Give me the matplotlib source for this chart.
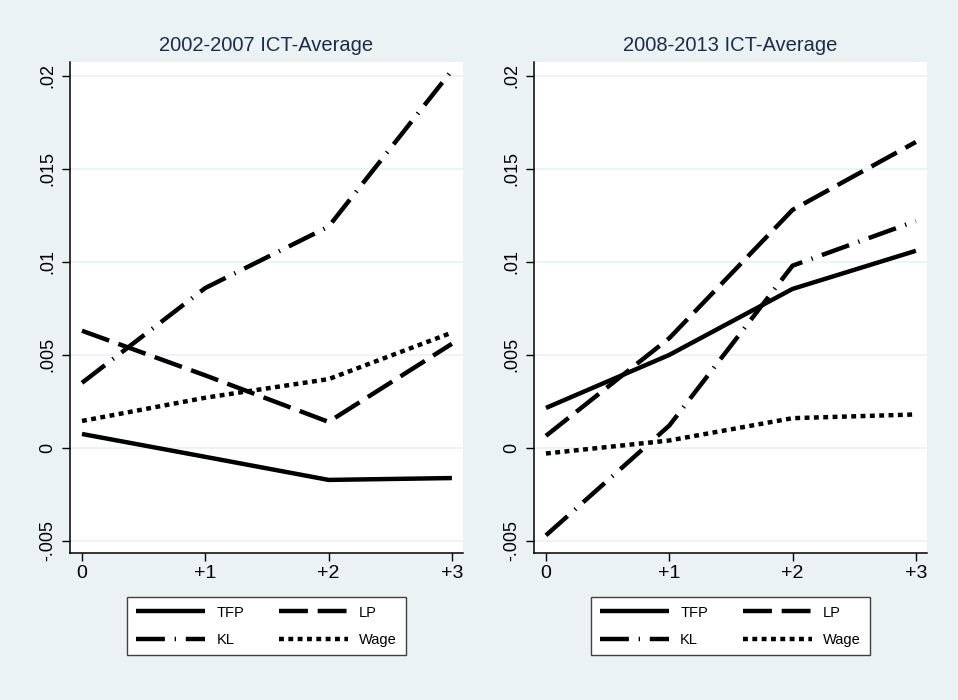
import numpy as np
import matplotlib
matplotlib.use("Agg")
import matplotlib.pyplot as plt

plt.rcParams['font.family'] = ['Liberation Sans', 'DejaVu Sans']

# horizon after the event
horizon = [0, 1, 2, 3]
horizon_labels = ['0', '+1', '+2', '+3']

titles = ['2002-2007 ICT-Average', '2008-2013 ICT-Average']

# 2002-2007 estimates
tfp_0207 = [0.00075, -0.00048, -0.00172, -0.00162]
lp_0207 = [0.0063, 0.0039, 0.0014, 0.0056]
kl_0207 = [0.0035, 0.0086, 0.0119, 0.0203]
wage_0207 = [0.00145, 0.0027, 0.0037, 0.0062]

# 2008-2013 estimates
tfp_0813 = [0.00215, 0.0050, 0.00855, 0.0106]
lp_0813 = [0.00065, 0.0059, 0.0128, 0.01645]
kl_0813 = [-0.0047, 0.0012, 0.0098, 0.0122]
wage_0813 = [-0.0003, 0.0004, 0.0016, 0.0018]

yticks = [-0.005, 0, 0.005, 0.01, 0.015, 0.02]
ytick_labels = ['-.005', '0', '.005', '.01', '.015', '.02']

bg = '#EAF2F3'
title_col = '#1E2C4C'

styles = {
    'TFP': dict(linestyle='-'),
    'LP': dict(linestyle=(0, (6.5, 2.2))),
    'KL': dict(linestyle=(0, (6.5, 2.2, 0.3, 2.2))),
    'Wage': dict(linestyle=(0, (1.1, 1.0))),
}

fig = plt.figure(figsize=(9.58, 7.0), dpi=100, facecolor=bg)

panels = [
    (0.0731, [tfp_0207, lp_0207, kl_0207, wage_0207]),
    (0.5574, [tfp_0813, lp_0813, kl_0813, wage_0813]),
]

for i, (x0, series) in enumerate(panels):
    ax = fig.add_axes([x0, 0.21, 0.4102, 0.7014])
    ax.set_facecolor('white')
    for name, vals in zip(['TFP', 'LP', 'KL', 'Wage'], series):
        ax.plot(horizon, vals, color='black', lw=3.2, label=name,
                solid_capstyle='butt', dash_capstyle='butt', **styles[name])
    ax.set_xlim(-0.097, 3.09)
    ax.set_ylim(-0.00565, 0.02075)
    ax.set_yticks(yticks)
    ax.set_yticklabels(ytick_labels, rotation=90, va='center')
    ax.set_xticks(horizon)
    ax.set_xticklabels(horizon_labels)
    ax.tick_params(axis='y', labelsize=13, length=6, width=1, pad=4)
    ax.tick_params(axis='x', labelsize=14, length=6, width=1, pad=3)
    for t in yticks:
        ax.axhline(t, color=bg, lw=1.2, zorder=0)
    ax.spines['top'].set_visible(False)
    ax.spines['right'].set_visible(False)
    ax.spines['left'].set_linewidth(1.1)
    ax.spines['bottom'].set_linewidth(1.1)
    ax.set_title(titles[i], fontsize=14.5, color=title_col, pad=8)

    handles, labels = ax.get_legend_handles_labels()
    order = [0, 2, 1, 3]
    leg = ax.legend([handles[j] for j in order], [labels[j] for j in order],
                    ncol=2, loc='center',
                    bbox_to_anchor=(0.5, -0.149), fontsize=10.5,
                    handlelength=4.7, handletextpad=0.8, columnspacing=2.4,
                    borderpad=0.6, labelspacing=0.9, frameon=True,
                    fancybox=False, edgecolor='#404040', framealpha=1)
    leg.get_frame().set_linewidth(1.0)

fig.savefig('out.png', dpi=100, facecolor=bg)
